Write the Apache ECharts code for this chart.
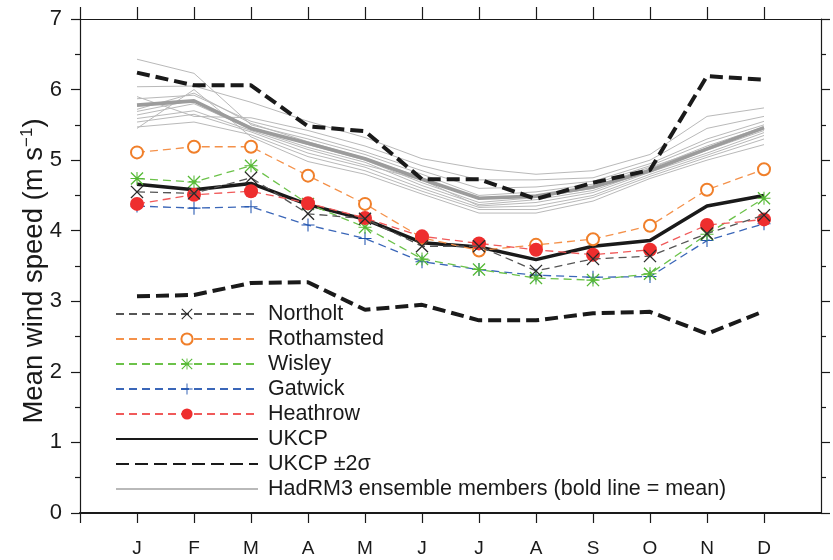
<!DOCTYPE html>
<html>
<head>
<meta charset="utf-8">
<script src="https://cdn.jsdelivr.net/npm/echarts@6/dist/echarts.min.js"></script>
<style>
html,body{margin:0;padding:0;background:#fff;}
#chart{width:833px;height:560px;}
</style>
</head>
<body>
<div id="chart"></div>
<script>
// ---- data ----
const months = ['J','F','M','A','M','J','J','A','S','O','N','D'];
const monthPos = [1,2,3,4,5,6,7,8,9,10,11,12];
const yTicks = [0,1,2,3,4,5,6,7];

const northolt   = [4.55,4.53,4.75,4.24,4.17,3.78,3.78,3.43,3.60,3.64,3.96,4.22];
const rothamsted = [5.11,5.19,5.19,4.78,4.38,3.90,3.72,3.80,3.88,4.07,4.58,4.87];
const wisley     = [4.74,4.69,4.92,4.38,4.05,3.60,3.45,3.33,3.30,3.39,3.95,4.46];
const gatwick    = [4.35,4.32,4.34,4.08,3.89,3.56,3.45,3.37,3.34,3.35,3.86,4.10];
const heathrow   = [4.38,4.51,4.56,4.39,4.18,3.92,3.82,3.73,3.66,3.73,4.08,4.16];
const ukcp       = [4.66,4.58,4.67,4.37,4.16,3.83,3.77,3.59,3.78,3.86,4.35,4.50];
const ukcpUpper  = [6.24,6.06,6.06,5.48,5.41,4.73,4.73,4.45,4.68,4.86,6.19,6.14];
const ukcpLower  = [3.07,3.09,3.26,3.27,2.88,2.95,2.73,2.73,2.83,2.85,2.54,2.86];
const hadMean    = [5.78,5.84,5.45,5.24,5.02,4.73,4.46,4.49,4.62,4.85,5.16,5.46];

const had1  = [6.43,6.23,5.50,5.30,5.08,4.80,4.50,4.55,4.66,4.92,5.25,5.50];
const had2  = [6.04,6.05,5.82,5.55,5.32,5.02,4.88,4.80,4.85,5.08,5.62,5.74];
const had3  = [5.90,5.62,5.60,5.42,5.20,4.92,4.72,4.72,4.75,5.00,5.45,5.62];
const had4  = [5.87,5.92,5.55,5.35,5.12,4.85,4.60,4.62,4.70,4.95,5.30,5.55];
const had5  = [5.72,5.95,5.52,5.26,5.03,4.75,4.45,4.50,4.62,4.90,5.17,5.44];
const had6  = [5.69,5.85,5.47,5.22,5.00,4.68,4.40,4.47,4.60,4.88,5.20,5.47];
const had7  = [5.64,5.80,5.44,5.18,4.97,4.64,4.37,4.44,4.57,4.85,5.14,5.42];
const had8  = [5.59,5.70,5.42,5.15,4.93,4.72,4.35,4.40,4.54,4.83,5.10,5.39];
const had9  = [5.54,5.65,5.40,5.10,4.90,4.60,4.33,4.35,4.50,4.80,5.07,5.35];
const had10 = [5.47,5.54,5.36,5.05,4.85,4.56,4.30,4.30,4.47,4.77,5.04,5.30];
const had11 = [5.45,6.00,5.33,4.98,4.80,4.52,4.25,4.25,4.42,4.74,5.00,5.22];
const hadMembers = [had1,had2,had3,had4,had5,had6,had7,had8,had9,had10,had11];

const HAD_NAME = 'HadRM3 ensemble members (bold line = mean)';
const SIGMA_NAME = 'UKCP \u00b12\u03c3';
const FONT = "'Liberation Sans', Arial, Helvetica, sans-serif";

function pts(arr){ return arr.map((v,i)=>[monthPos[i], v]); }

const crossPath = 'path://M0,0.7 L0.7,0 L5,4.3 L9.3,0 L10,0.7 L5.7,5 L10,9.3 L9.3,10 L5,5.7 L0.7,10 L0,9.3 L4.3,5 Z';
const plusPath = 'path://M4.6,0 L5.4,0 L5.4,4.6 L10,4.6 L10,5.4 L5.4,5.4 L5.4,10 L4.6,10 L4.6,5.4 L0,5.4 L0,4.6 L4.6,4.6 Z';
const starPath = 'path://M0,0.7 L0.7,0 L5,4.3 L9.3,0 L10,0.7 L5.7,5 L10,9.3 L9.3,10 L5,5.7 L0.7,10 L0,9.3 L4.3,5 Z M4.6,0 L5.4,0 L5.4,4.6 L10,4.6 L10,5.4 L5.4,5.4 L5.4,10 L4.6,10 L4.6,5.4 L0,5.4 L0,4.6 L4.6,4.6 Z';

const series = [];
hadMembers.forEach(function(m){
  series.push({
    name: HAD_NAME, type:'line', data: pts(m), symbol:'none',
    lineStyle:{color:'#b9b9b9', width:1}, itemStyle:{color:'#b9b9b9'}, z:1
  });
});
series.push({
  name:'HadRM3 mean', type:'line', data: pts(hadMean), symbol:'none',
  lineStyle:{color:'#9c9c9c', width:3.6}, itemStyle:{color:'#9c9c9c'}, z:2
});
series.push({
  name:SIGMA_NAME, type:'line', data: pts(ukcpUpper), symbol:'none',
  lineStyle:{color:'#1a1a1a', width:4, type:[13,6]}, itemStyle:{color:'#1a1a1a'}, z:3
});
series.push({
  name:SIGMA_NAME, type:'line', data: pts(ukcpLower), symbol:'none',
  lineStyle:{color:'#1a1a1a', width:4, type:[13,6]}, itemStyle:{color:'#1a1a1a'}, z:3
});
series.push({
  name:'UKCP', type:'line', data: pts(ukcp), symbol:'none',
  lineStyle:{color:'#1a1a1a', width:3.5}, itemStyle:{color:'#1a1a1a'}, z:4
});
series.push({
  name:'Gatwick', type:'line', data: pts(gatwick), symbol: plusPath, symbolSize:13,
  lineStyle:{color:'#3a66b8', width:1.3, type:[8,5]}, itemStyle:{color:'#2255b0'}, z:5
});
series.push({
  name:'Wisley', type:'line', data: pts(wisley), symbol: starPath, symbolSize:13,
  lineStyle:{color:'#6cc24a', width:1.3, type:[8,5]}, itemStyle:{color:'#55b935'}, z:5
});
series.push({
  name:'Rothamsted', type:'line', data: pts(rothamsted), symbol:'emptyCircle', symbolSize:12,
  lineStyle:{color:'#f4914a', width:1.3, type:[8,5]}, itemStyle:{color:'#f07f2a', borderWidth:1.2}, z:5
});
series.push({
  name:'Heathrow', type:'line', data: pts(heathrow), symbol:'circle', symbolSize:14,
  lineStyle:{color:'#f05a5a', width:1.3, type:[8,5]}, itemStyle:{color:'#ee2e2e'}, z:6
});
series.push({
  name:'Northolt', type:'line', data: pts(northolt), symbol: crossPath, symbolSize:13,
  lineStyle:{color:'#555555', width:1.3, type:[8,5]}, itemStyle:{color:'#2a2a2a'}, z:7
});

const axisLineStyle = {color:'#1a1a1a', width:1.2};
const noSymbol = {opacity:0};

const option = {
  animation:false,
  backgroundColor:'#ffffff',
  textStyle:{fontFamily:FONT},
  grid:{left:80, right:12, top:19, bottom:47, containLabel:false},
  legend:{
    orient:'vertical', left:110, top:298,
    itemWidth:142, itemHeight:14, itemGap:3,
    data:['Northolt','Rothamsted','Wisley','Gatwick','Heathrow',
      {name:'UKCP', itemStyle:noSymbol},
      {name:SIGMA_NAME, itemStyle:noSymbol},
      {name:HAD_NAME, itemStyle:noSymbol}],
    textStyle:{fontFamily:FONT, fontSize:21.5, color:'#1a1a1a', lineHeight:22, padding:[0,0,0,5]},
    selectedMode:false
  },
  xAxis:[{
    type:'value', min:0, max:13, interval:1, position:'bottom',
    axisLine:{show:true, onZero:false, lineStyle:{color:'#1a1a1a', width:2.2}},
    axisTick:{show:true, inside:false, length:10, customValues:[0,1,2,3,4,5,6,7,8,9,10,11,12], lineStyle:{color:'#1a1a1a', width:1.2}},
    axisLabel:{show:true, customValues:monthPos, margin:26, fontSize:19, color:'#1a1a1a', fontFamily:FONT,
      formatter:function(v){ return months[Math.round(v)-1] || ''; }},
    splitLine:{show:false}
  },{
    type:'value', min:0, max:13, interval:1, position:'top',
    axisLine:{show:true, onZero:false, lineStyle:axisLineStyle},
    axisTick:{show:true, inside:false, length:12, customValues:[0,1,2,3,4,5,6,7,8,9,10,11,12], lineStyle:axisLineStyle},
    axisLabel:{show:false},
    splitLine:{show:false}
  }],
  yAxis:[{
    type:'value', min:0, max:7, interval:1, position:'left',
    name:'{a|Mean wind speed (m s}{b|\u22121}{a|)}',
    nameLocation:'middle', nameGap:31, nameMoveOverlap:false,
    nameTextStyle:{
      padding:[0,10,0,0],
      rich:{
        a:{fontSize:27.5, fontFamily:FONT, color:'#1a1a1a', lineHeight:30},
        b:{fontSize:17, fontFamily:FONT, color:'#1a1a1a', lineHeight:20, verticalAlign:'top'}
      }
    },
    axisLine:{show:true, onZero:false, lineStyle:axisLineStyle},
    axisTick:{show:true, inside:false, length:9, lineStyle:axisLineStyle},
    minorTick:{show:true, splitNumber:2, length:5, lineStyle:axisLineStyle},
    axisLabel:{show:true, margin:18, fontSize:22, color:'#1a1a1a', fontFamily:FONT},
    splitLine:{show:false}, minorSplitLine:{show:false}
  },{
    type:'value', min:0, max:7, interval:1, position:'right',
    axisLine:{show:true, onZero:false, lineStyle:axisLineStyle},
    axisTick:{show:true, inside:false, length:9, lineStyle:axisLineStyle},
    minorTick:{show:true, splitNumber:2, length:5, lineStyle:axisLineStyle},
    axisLabel:{show:false},
    splitLine:{show:false}, minorSplitLine:{show:false}
  }],
  series: series
};

const chart = echarts.init(document.getElementById('chart'), null, {renderer:'canvas'});
chart.setOption(option);
</script>
</body>
</html>
